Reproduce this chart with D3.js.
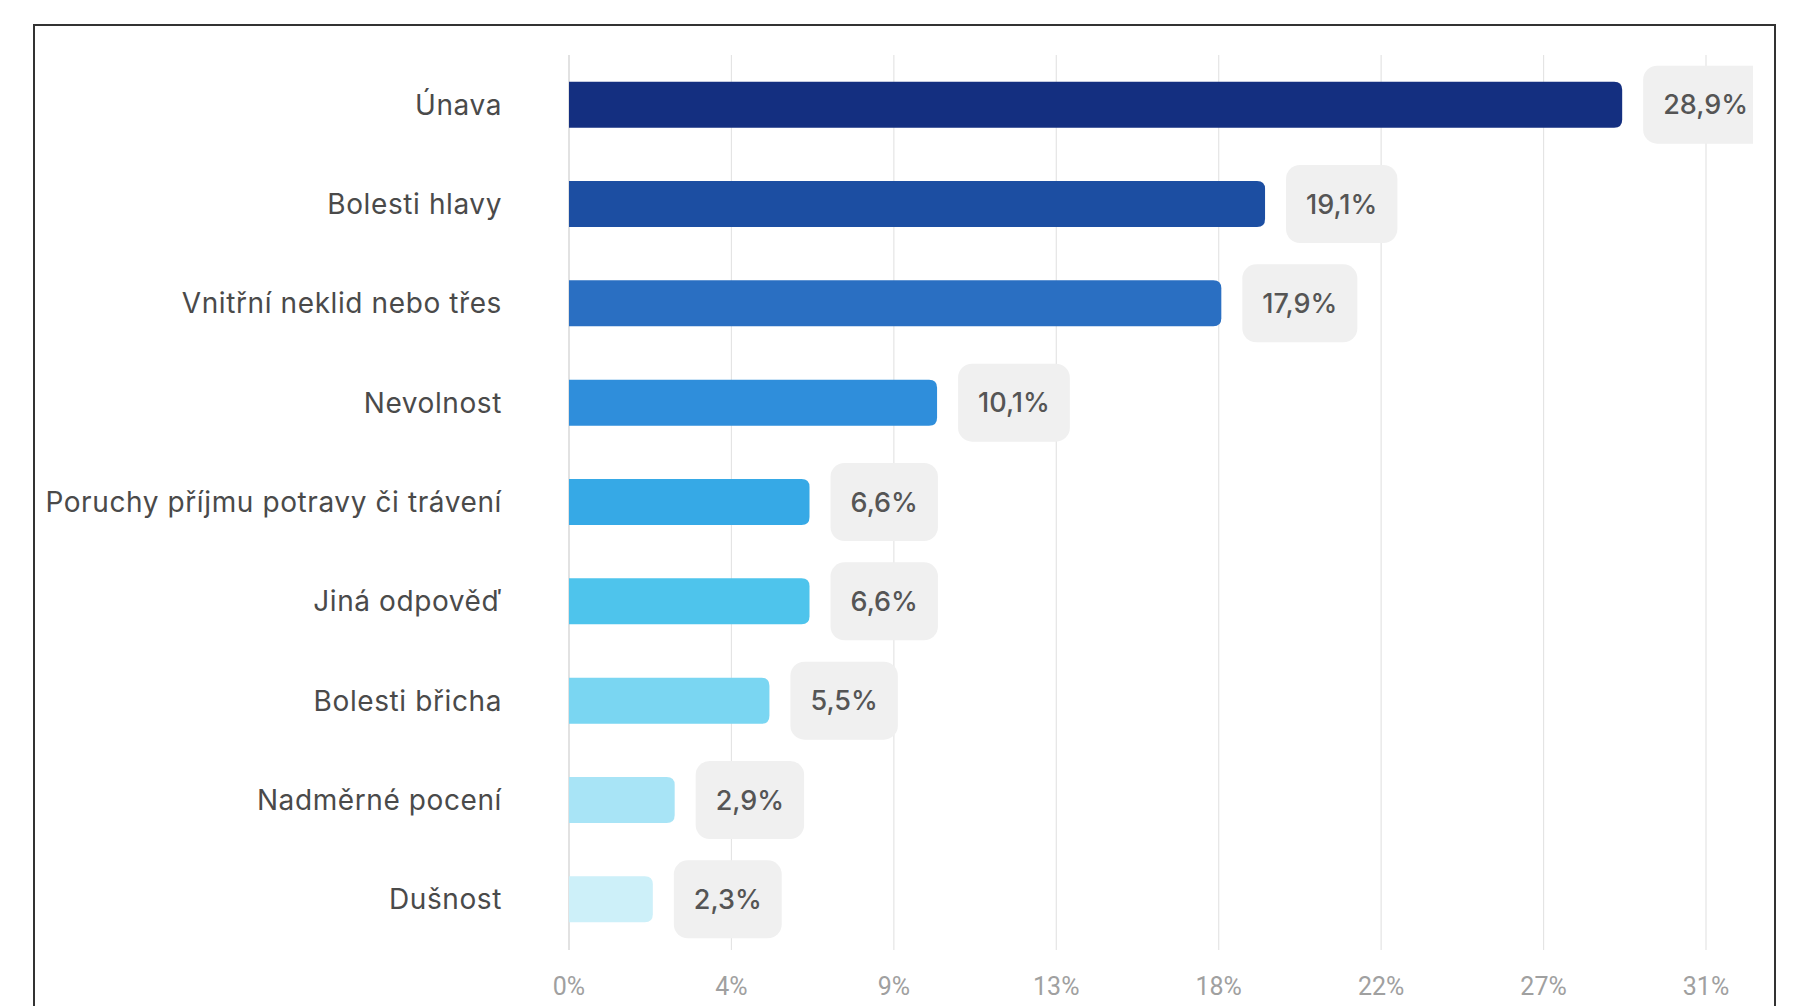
<!DOCTYPE html>
<html>
<head>
<meta charset="utf-8">
<script src="https://cdn.jsdelivr.net/npm/d3@7"></script>
<style>
    body { margin: 0; background: #fff; }
    svg { display: block; font-family: Inter, Roboto, "Noto Sans", sans-serif; }
    .cat-label { fill: #4a4a4a; font-size: 28px; font-weight: 400; letter-spacing: 0.6px; }
    .tick-label { fill: #a0a0a0; font-size: 25px; font-family: Roboto, sans-serif; }
    .value-label { fill: #555; font-size: 27px; font-weight: 500; }
</style>
</head>
<body>
<svg id="chart"></svg>
<script>
const categories = [
    'Únava',
    'Bolesti hlavy',
    'Vnitřní neklid nebo třes',
    'Nevolnost',
    'Poruchy příjmu potravy či trávení',
    'Jiná odpověď',
    'Bolesti břicha',
    'Nadměrné pocení',
    'Dušnost'
];
const values = [28.9, 19.1, 17.9, 10.1, 6.6, 6.6, 5.5, 2.9, 2.3];
const barColors = ['#142f80', '#1c4ea2', '#2a6fc2', '#2f8edb', '#36a9e6', '#4ec4ec', '#7ad6f2', '#a8e4f6', '#cdf0f9'];
const tickLabels = ['0%', '4%', '9%', '13%', '18%', '22%', '27%', '31%'];
const xMax = 31.2;

const width = 1794, height = 1006;

const svg = d3.select('#chart')
    .attr('width', width)
    .attr('height', height);

// outer frame (bottom edge runs off the picture)
svg.append('rect')
    .attr('x', 34)
    .attr('y', 25)
    .attr('width', 1741)
    .attr('height', 1100)
    .attr('fill', 'none')
    .attr('stroke', '#333')
    .attr('stroke-width', 2);

const xScale = d3.scaleLinear()
    .domain([0, xMax])
    .range([569, 1706]);

const yScale = d3.scaleBand()
    .domain(categories)
    .range([55, 949])
    .paddingInner(0.537)
    .paddingOuter(0.2685);

const tickValues = tickLabels.map((t, i) => xMax * i / (tickLabels.length - 1));

// gridlines
svg.append('g')
    .selectAll('line')
    .data(tickValues)
    .join('line')
    .attr('x1', d => xScale(d))
    .attr('x2', d => xScale(d))
    .attr('y1', 55)
    .attr('y2', 950)
    .attr('stroke', (d, i) => i === 0 ? '#cfcfcf' : '#e4e4e4')
    .attr('stroke-width', 1.2);

// x tick labels
svg.append('g')
    .selectAll('text')
    .data(tickValues)
    .join('text')
    .attr('class', 'tick-label')
    .attr('x', d => xScale(d))
    .attr('y', 986)
    .attr('text-anchor', 'middle')
    .attr('dominant-baseline', 'central')
    .text((d, i) => tickLabels[i]);

// category labels
svg.append('g')
    .selectAll('text')
    .data(categories)
    .join('text')
    .attr('class', 'cat-label')
    .attr('x', 502)
    .attr('y', d => yScale(d) + yScale.bandwidth() / 2)
    .attr('text-anchor', 'end')
    .attr('dominant-baseline', 'central')
    .text(d => d);

// bars, rounded on the right end only
const r = 8;
const barPath = (x0, x1, y, h) => {
    const rr = Math.min(r, (x1 - x0) / 2);
    return `M${x0},${y}H${x1 - rr}Q${x1},${y} ${x1},${y + rr}V${y + h - rr}Q${x1},${y + h} ${x1 - rr},${y + h}H${x0}Z`;
};

svg.append('g')
    .selectAll('path')
    .data(values)
    .join('path')
    .attr('d', (d, i) => barPath(xScale(0), xScale(d), yScale(categories[i]), yScale.bandwidth()))
    .attr('fill', (d, i) => barColors[i]);

// value pills
const clip = svg.append('clipPath').attr('id', 'frameClip');
clip.append('rect').attr('x', 35).attr('y', 26).attr('width', 1718).attr('height', 1000);

const pills = svg.append('g')
    .attr('clip-path', 'url(#frameClip)')
    .selectAll('g')
    .data(values)
    .join('g')
    .attr('transform', (d, i) => `translate(${xScale(d) + 21}, ${yScale(categories[i]) + yScale.bandwidth() / 2})`);

pills.append('rect')
    .attr('class', 'pill')
    .attr('rx', 14)
    .attr('ry', 14)
    .attr('fill', '#f0f0f0');

pills.append('text')
    .attr('class', 'value-label')
    .attr('dominant-baseline', 'central')
    .attr('text-anchor', 'middle')
    .text(d => d.toFixed(1).replace('.', ',') + '%');

pills.each(function () {
    const g = d3.select(this);
    const w = g.select('text').node().getComputedTextLength() + 40;
    g.select('rect')
        .attr('x', 0)
        .attr('y', -39)
        .attr('width', w)
        .attr('height', 78);
    g.select('text').attr('x', w / 2);
});
</script>
</body>
</html>
